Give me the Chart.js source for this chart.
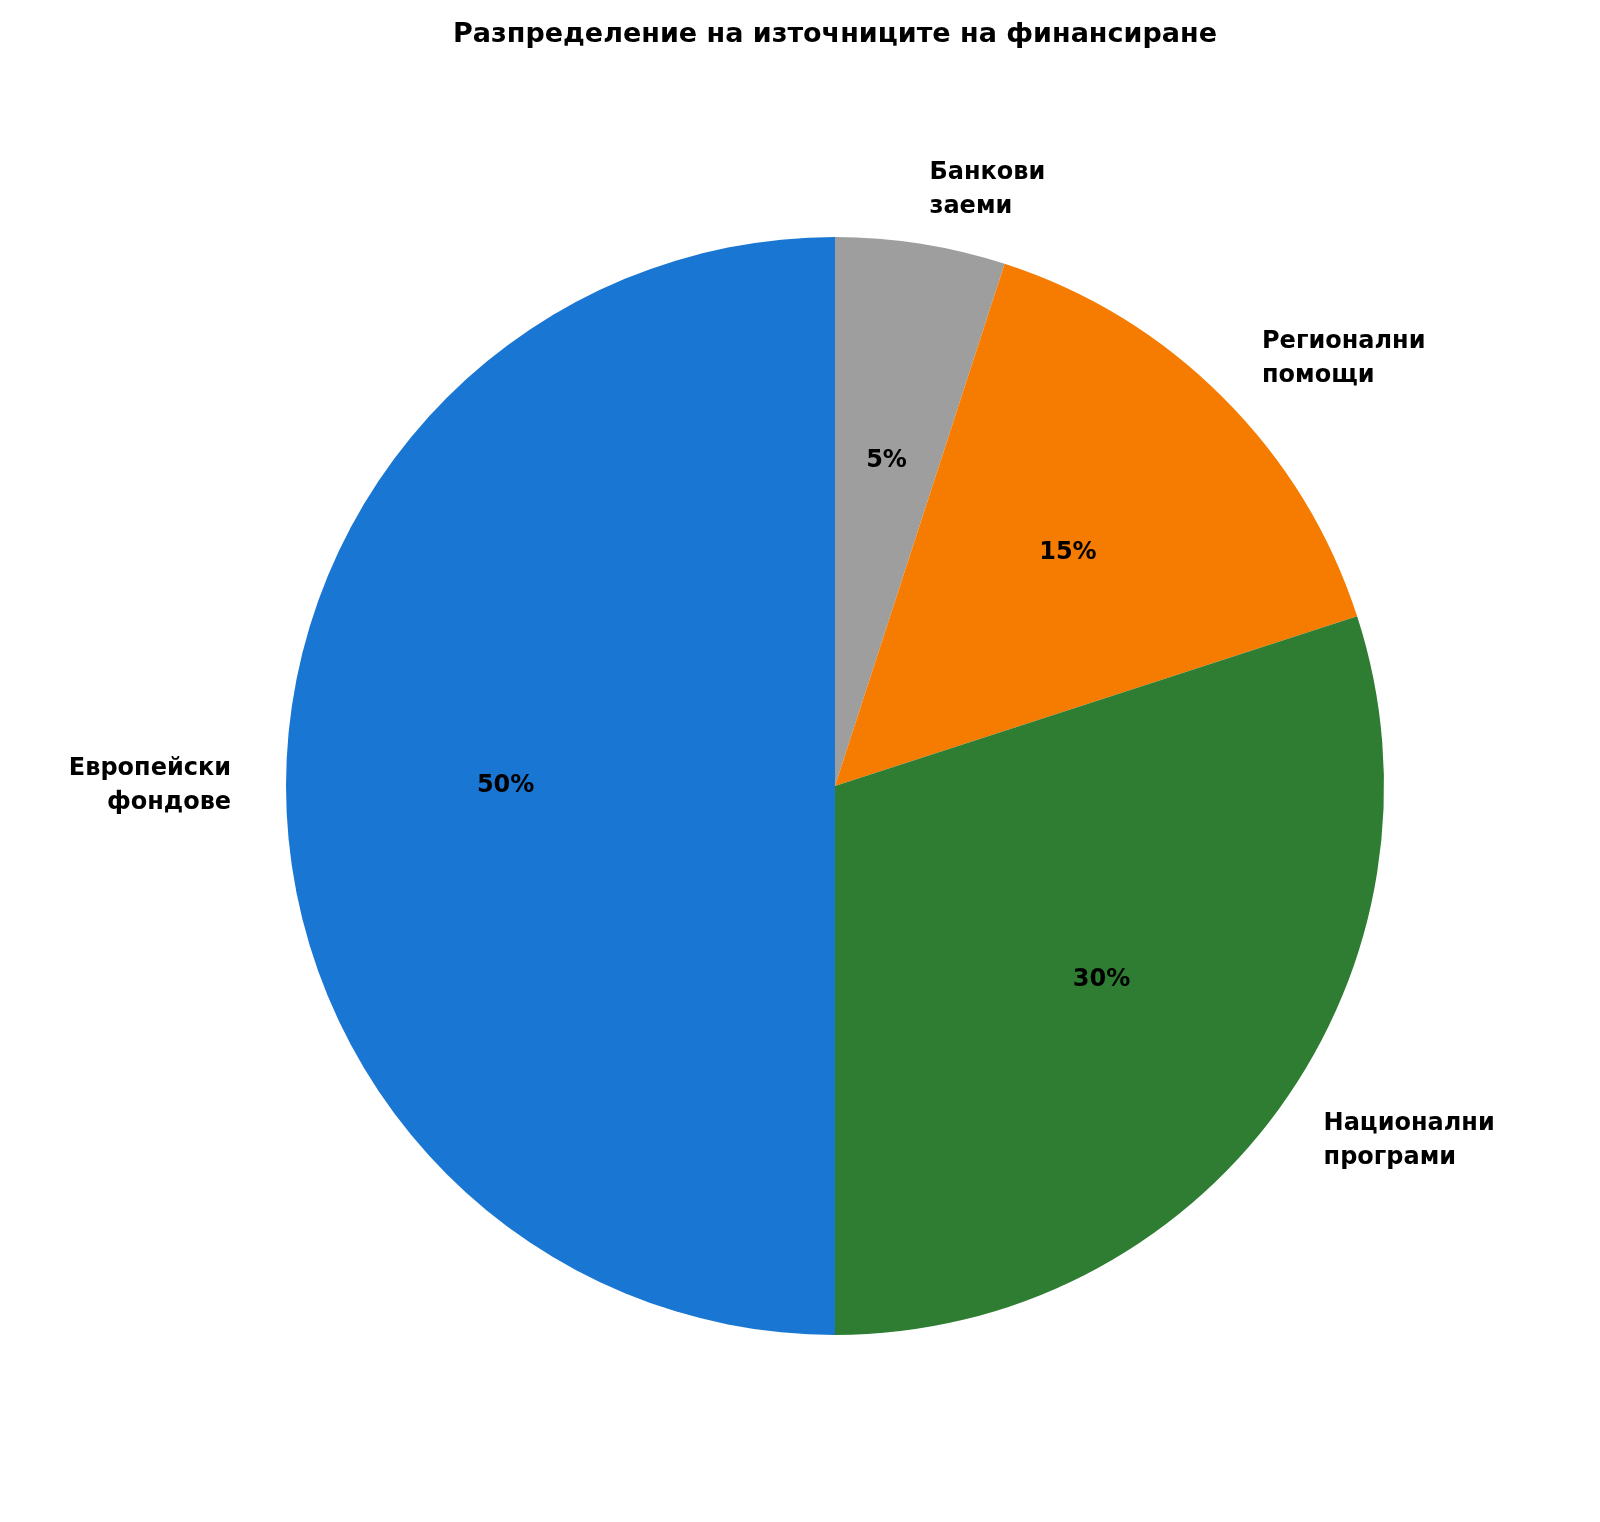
<!DOCTYPE html>
<html><head><meta charset="utf-8">
<script src="https://cdn.jsdelivr.net/npm/chart.js"></script>
<style>html,body{margin:0;padding:0;background:#fff}#w{width:1600px;height:1522px}</style>
</head><body><div id="w"><canvas id="c"></canvas></div>
<script>
const categories = [["Банкови","заеми"],["Регионални","помощи"],["Национални","програми"],["Европейски","фондове"]];
const values = [5, 15, 30, 50];
const colors = ["#9E9E9E","#F57C00","#2E7D32","#1976D2"];
const titleText = "Разпределение на източниците на финансиране";
const FONT = '"DejaVu Sans", sans-serif';
const labelsPlugin = {
  id: 'lbl',
  afterDatasetsDraw(chart) {
    const ctx = chart.ctx;
    const meta = chart.getDatasetMeta(0);
    const total = values.reduce((a,b)=>a+b,0);
    ctx.save();
    ctx.fillStyle = '#000';
    ctx.font = 'bold 27px ' + FONT;
    ctx.textAlign = 'center'; ctx.textBaseline = 'middle';
    ctx.fillText(titleText, 835, 35);
    meta.data.forEach((arc, i) => {
      const mid = (arc.startAngle + arc.endAngle) / 2;
      const r = arc.outerRadius;
      const cx = Math.cos(mid), cy = Math.sin(mid);
      ctx.font = 'bold 24px ' + FONT;
      ctx.textAlign = 'center';
      ctx.fillText(Math.round(values[i] / total * 100) + '%', arc.x + cx * r * 0.6, arc.y + cy * r * 0.6);
      const lx = arc.x + cx * r * 1.1, ly = arc.y + cy * r * 1.1;
      ctx.textAlign = cx >= 0 ? 'left' : 'right';
      const lines = categories[i];
      const lh = 34;
      lines.forEach((t, k) => ctx.fillText(t, lx, ly + (k - (lines.length - 1) / 2) * lh));
    });
    ctx.restore();
  }
};
new Chart(document.getElementById('c'), {
  type: 'pie',
  data: { labels: categories.map(c => c.join(' ')), datasets: [{ data: values, backgroundColor: colors, borderWidth: 0 }] },
  options: {
    responsive: true, maintainAspectRatio: false, animation: false,
    layout: { padding: { left: 286, right: 216, top: 237, bottom: 187 } },
    plugins: { legend: { display: false }, tooltip: { enabled: false } }
  },
  plugins: [labelsPlugin]
});
</script></body></html>
